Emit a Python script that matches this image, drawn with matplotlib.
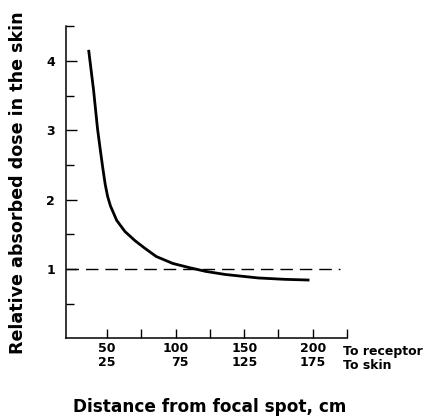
import matplotlib.pyplot as plt

plt.rcParams['font.family'] = ['DejaVu Sans']
plt.rcParams['font.weight'] = 'bold'

# curve (distance to receptor, cm / relative dose)
dist = [36.5, 40.1, 43.0, 45.0, 46.8, 48.6, 50.3, 52.4, 57.0, 63.0, 70.2,
        77.4, 85.8, 97.8, 109.8, 121.9, 136.3, 160.3, 180.0, 197.6]
dose = [4.16, 3.58, 3.02, 2.72, 2.46, 2.22, 2.05, 1.91, 1.70, 1.54, 1.41,
        1.30, 1.18, 1.08, 1.02, 0.965, 0.92, 0.87, 0.85, 0.84]

ref_level = 1.0
receptor_ticks = [50, 100, 150, 200]
skin_labels = ['25', '75', '125', '175']
minor_x = [75, 125, 175, 225]
y_major = [1, 2, 3, 4]
y_minor = [0.5, 1.5, 2.5, 3.5, 4.5]

fig = plt.figure(figsize=(4.32, 4.16), dpi=100)
ax = fig.add_axes([0.1528, 0.1868, 0.6505, 0.75])

ax.plot(dist, dose, color='black', lw=2.0, solid_capstyle='butt',
        solid_joinstyle='round')
ax.plot([20, 220], [ref_level, ref_level], color='black', lw=1.0,
        linestyle=(0, (9, 5)))

ax.set_xlim(20, 225)
ax.set_ylim(0, 4.5)

for s in ['top', 'right']:
    ax.spines[s].set_visible(False)
for s in ['left', 'bottom']:
    ax.spines[s].set_linewidth(1.1)

ax.set_xticks(receptor_ticks)
ax.set_xticklabels([f'{r}\n{s}' for r, s in zip(receptor_ticks, skin_labels)],
                   multialignment='right', linespacing=1.05)
ax.set_xticks(minor_x, minor=True)
ax.set_yticks(y_major)
ax.set_yticks(y_minor, minor=True)

ax.tick_params(axis='x', which='both', direction='in', length=6.5, width=1.0,
               labelsize=9, pad=3)
ax.tick_params(axis='y', which='major', direction='in', length=8, width=1.0,
               labelsize=9, pad=8)
ax.tick_params(axis='y', which='minor', direction='in', length=5.5, width=1.0)

ax.text(222.3, -0.0647, 'To receptor\nTo skin', transform=ax.get_xaxis_transform(),
        ha='left', va='center', fontsize=9, linespacing=1.05, clip_on=False)

fig.text(209.5 / 432, 1 - 407 / 416, 'Distance from focal spot, cm',
         ha='center', va='center', fontsize=12.2)
fig.text(18 / 432, 1 - 183 / 416, 'Relative absorbed dose in the skin',
         ha='center', va='center', rotation=90, fontsize=12.6)

fig.savefig('out.png', dpi=100)
